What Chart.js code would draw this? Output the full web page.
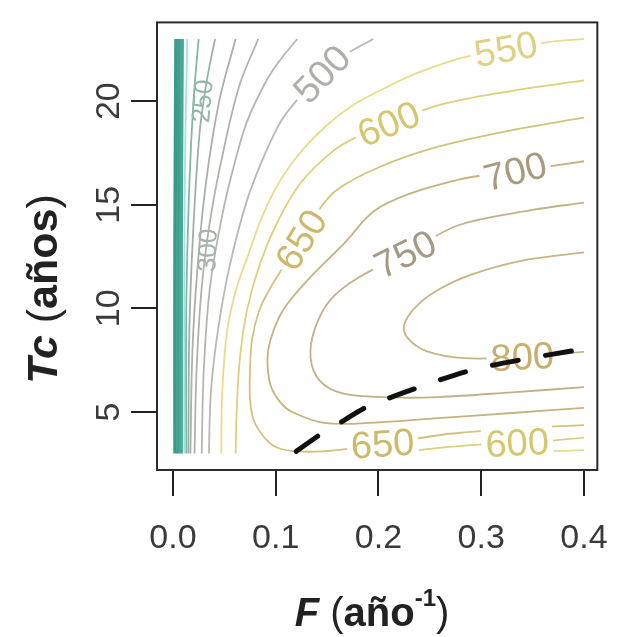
<!DOCTYPE html>
<html>
<head>
<meta charset="utf-8">
<script src="https://cdn.jsdelivr.net/npm/chart.js@4.4.1/dist/chart.umd.min.js"></script>
<style>
  html, body { margin: 0; padding: 0; background: #fff; }
  canvas { display: block; }
</style>
</head>
<body>
<canvas id="contourChart" width="630" height="637"></canvas>
<script>
// axis ticks
const xTicks = [0.0, 0.1, 0.2, 0.3, 0.4];
const yTicks = [5, 10, 15, 20];

// contour lines, points are [F, Tc]
const c50 = [[0.002, 3], [0.002, 13], [0.003, 23]];
const c100 = [[0.005, 3], [0.005, 13], [0.006, 23]];
const c150 = [[0.008, 3], [0.008, 13], [0.009, 23]];
const c200 = [[0.011, 3], [0.011, 12], [0.012, 18], [0.014, 23]];
const c250 = [[0.013, 3], [0.013, 10], [0.016, 16], [0.02, 20], [0.025, 23]];
const c300 = [[0.015, 3], [0.016, 9], [0.02, 14], [0.026, 18.5], [0.033, 21], [0.041, 23]];
const c350 = [[0.017, 3], [0.019, 8], [0.024, 12], [0.032, 16], [0.045, 20], [0.061, 23]];
const c400 = [[0.021, 3], [0.023, 7], [0.028, 11], [0.037, 14.5], [0.05, 17.8], [0.065, 20.8], [0.083, 23]];
const c450 = [[0.028, 3], [0.03, 7], [0.036, 11], [0.048, 14.5], [0.06, 17], [0.072, 19], [0.09, 20.9], [0.103, 21.9], [0.121, 23]];
const c500 = [[0.035, 3], [0.037, 6], [0.044, 9], [0.055, 12], [0.072, 15.2], [0.09, 17.5], [0.106, 19.1],
  [0.125, 20.3], [0.145, 21.3], [0.17, 22.3], [0.195, 23]];
const c550 = [[0.047, 3], [0.048, 6], [0.053, 9], [0.062, 11], [0.072, 12.4], [0.085, 14.2], [0.1, 15.8],
  [0.122, 17.4], [0.149, 18.8], [0.175, 19.8], [0.205, 20.6], [0.235, 21.3], [0.268, 21.9], [0.3, 22.3],
  [0.33, 22.55], [0.365, 22.85], [0.4, 23.0]];
const c550b = [[0.33, 3.0], [0.36, 3.08], [0.4, 3.16]];
const c600 = [[0.061, 3], [0.062, 5], [0.065, 7.5], [0.072, 9.9], [0.085, 12.2], [0.103, 14.3], [0.125, 16.1],
  [0.156, 17.6], [0.18, 18.3], [0.21, 18.9], [0.258, 19.8], [0.33, 20.5], [0.4, 21.0]];
const c600b = [[0.215, 3.0], [0.25, 3.22], [0.29, 3.4], [0.335, 3.5], [0.37, 3.62], [0.4, 3.76]];
const c650 = [[0.4, 19.2], [0.33, 18.6], [0.258, 17.8], [0.2, 16.8], [0.159, 15.7], [0.14, 14.6], [0.125, 13.3],
  [0.11, 12.2], [0.095, 11], [0.084, 9.9], [0.077, 8.5], [0.075, 7], [0.075, 5.6], [0.078, 4.7], [0.084, 4.1],
  [0.093, 3.55], [0.103, 3.25], [0.12, 3.1], [0.146, 3.1], [0.175, 3.25], [0.204, 3.45], [0.235, 3.7],
  [0.27, 3.95], [0.33, 4.2], [0.4, 4.37]];
const c700 = [[0.4, 17.1], [0.333, 16.6], [0.277, 16.2], [0.202, 14.9], [0.165, 13.05], [0.13, 11.3],
  [0.107, 9.9], [0.095, 8.5], [0.092, 7.5], [0.095, 6.3], [0.104, 5.5], [0.116, 5.0], [0.149, 4.46],
  [0.2, 4.5], [0.258, 4.7], [0.33, 4.95], [0.4, 5.2]];
const c750 = [[0.4, 15.1], [0.35, 14.75], [0.277, 14.0], [0.226, 12.6], [0.181, 11.5], [0.153, 10.4],
  [0.138, 9.0], [0.134, 7.6], [0.143, 6.5], [0.165, 5.9], [0.214, 5.7], [0.258, 5.72], [0.33, 5.95], [0.4, 6.2]];
const c800 = [[0.4, 12.7], [0.34, 12.3], [0.289, 11.6], [0.255, 10.8], [0.235, 10.0], [0.225, 9.2],
  [0.228, 8.6], [0.246, 7.95], [0.283, 7.6], [0.34, 7.65], [0.4, 7.9]];

// dashed black path
const dashPath = [[0.12, 3.1], [0.143, 3.9], [0.165, 4.55], [0.187, 5.2], [0.237, 6.15], [0.289, 7.0], [0.342, 7.55], [0.395, 8.0]];

const contours = [
  [50, c50], [100, c100], [150, c150], [200, c200], [250, c250], [300, c300], [350, c350],
  [400, c400], [450, c450], [500, c500], [550, c550], [550, c550b], [600, c600], [600, c600b],
  [650, c650], [700, c700], [750, c750], [800, c800]
];

const lineColor = {
  50: '#3a9a8a', 100: '#3d9f8f', 150: '#4aa696', 200: '#a2e4dd', 250: '#86b6a8', 300: '#9db0a8',
  350: '#aab0aa', 400: '#b2b2ac', 450: '#b6b6b0', 500: '#b9b9b3', 550: '#e6dc8c', 600: '#ddd07a',
  650: '#d3c27c', 700: '#c6b27e', 750: '#c2b088', 800: '#c9b486'
};
const textColor = {
  250: '#93b8ac', 300: '#a3b3ab', 500: '#b0b0aa', 550: '#ddd184', 600: '#d6c76e',
  650: '#cdb96a', 700: '#a89a7e', 750: '#a39a86', 800: '#c7b06e'
};

// label placement on the lines
const contourLabels = [
  { text: '500', level: 500, f: 0.145, tc: 21.3, angle: -46 },
  { text: '550', level: 550, f: 0.324, tc: 22.5, angle: -10 },
  { text: '600', level: 600, f: 0.21, tc: 18.9, angle: -22 },
  { text: '650', level: 650, f: 0.125, tc: 13.3, angle: -58 },
  { text: '700', level: 700, f: 0.333, tc: 16.6, angle: -14 },
  { text: '750', level: 750, f: 0.226, tc: 12.6, angle: -26 },
  { text: '800', level: 800, f: 0.34, tc: 7.65, angle: -3 },
  { text: '650', level: 650, f: 0.204, tc: 3.45, angle: -4 },
  { text: '600', level: 600, f: 0.335, tc: 3.5, angle: -3 },
  { text: '250', level: 250, f: 0.028, tc: 20.0, angle: -85, small: true },
  { text: '300', level: 300, f: 0.033, tc: 12.8, angle: -88, small: true }
];

const FONT = "'Liberation Sans', Arial, sans-serif";

const datasets = [{
  data: dashPath.map(p => ({ x: p[0], y: p[1] })),
  showLine: true, borderColor: '#111', borderWidth: 5, borderDash: [26, 28],
  pointRadius: 0, tension: 0.3, borderCapStyle: 'round'
}];
contours.forEach(([lev, pts]) => {
  datasets.push({
    data: pts.map(p => ({ x: p[0], y: p[1] })),
    showLine: true,
    borderColor: lineColor[lev],
    borderWidth: lev <= 150 ? 3.5 : 1.8,
    pointRadius: 0,
    tension: 0.35
  });
});

const labelPlugin = {
  id: 'contourLabels',
  afterDatasetDraw(chart, args) {
    if (args.index !== 1) return;
    const ctx = chart.ctx;
    const xs = chart.scales.x, ys = chart.scales.y;
    ctx.save();
    contourLabels.forEach(l => {
      const size = l.small ? 26 : 38;
      ctx.font = size + 'px ' + FONT;
      const w = ctx.measureText(l.text).width;
      ctx.save();
      ctx.translate(xs.getPixelForValue(l.f), ys.getPixelForValue(l.tc));
      ctx.rotate(l.angle * Math.PI / 180);
      if (!l.small) {
        ctx.fillStyle = '#ffffff';
        ctx.fillRect(-w / 2 - 4, -size * 0.42, w + 8, size * 0.84);
      }
      ctx.fillStyle = textColor[l.level];
      ctx.textAlign = 'center';
      ctx.textBaseline = 'middle';
      ctx.fillText(l.text, 0, 2);
      ctx.restore();
    });
    ctx.restore();
  }
};

function richText(ctx, parts, x, y) {
  let total = 0;
  parts.forEach(p => { ctx.font = p.font; p.w = ctx.measureText(p.t).width; total += p.w; });
  let cx = x - total / 2;
  parts.forEach(p => {
    ctx.font = p.font;
    ctx.fillText(p.t, cx, y + (p.dy || 0));
    cx += p.w;
  });
}

const framePlugin = {
  id: 'frame',
  afterDatasetsDraw(chart) {
    const { ctx, chartArea: a } = chart;
    ctx.save();
    ctx.strokeStyle = '#2b2b2b';
    ctx.lineWidth = 2;
    ctx.strokeRect(a.left, a.top, a.right - a.left, a.bottom - a.top);
    ctx.restore();
  },
  afterDraw(chart) {
    const ctx = chart.ctx;
    ctx.save();
    ctx.fillStyle = '#222';
    ctx.textBaseline = 'alphabetic';
    richText(ctx, [
      { t: 'F', font: 'italic bold 40px ' + FONT },
      { t: ' (', font: '40px ' + FONT },
      { t: 'año', font: 'bold 40px ' + FONT },
      { t: '-1', font: 'bold 24px ' + FONT, dy: -20 },
      { t: ')', font: '40px ' + FONT }
    ], 372, 626);
    ctx.translate(42, 289);
    ctx.rotate(-Math.PI / 2);
    richText(ctx, [
      { t: 'Tc', font: 'italic bold 43px ' + FONT },
      { t: ' (', font: '43px ' + FONT },
      { t: 'años', font: 'bold 43px ' + FONT },
      { t: ')', font: '43px ' + FONT }
    ], 0, 15);
    ctx.restore();
  }
};

new Chart(document.getElementById('contourChart'), {
  type: 'scatter',
  data: { datasets: datasets },
  options: {
    responsive: false,
    animation: false,
    layout: { padding: { top: 9, right: 13, left: 0, bottom: 0 } },
    plugins: { legend: { display: false }, tooltip: { enabled: false } },
    scales: {
      x: {
        type: 'linear', min: -0.0155, max: 0.413,
        afterBuildTicks: s => { s.ticks = xTicks.map(v => ({ value: v })); },
        afterFit: s => { s.height = 167; },
        border: { display: false },
        grid: { drawOnChartArea: false, tickLength: 26, lineWidth: 2, color: '#222' },
        ticks: {
          callback: v => Number(v).toFixed(1), autoSkip: false, maxRotation: 0,
          font: { family: FONT, size: 34 }, color: '#3a3a3a', padding: 22
        }
      },
      y: {
        type: 'linear', min: 2.2, max: 23.8,
        afterBuildTicks: s => { s.ticks = yTicks.map(v => ({ value: v })); },
        afterFit: s => { s.width = 157; },
        border: { display: false },
        grid: { drawOnChartArea: false, tickLength: 26, lineWidth: 2, color: '#222' },
        ticks: {
          autoSkip: false, minRotation: 90, maxRotation: 90, crossAlign: 'center',
          font: { family: FONT, size: 34 }, color: '#3a3a3a', padding: 2
        }
      }
    }
  },
  plugins: [labelPlugin, framePlugin]
});
</script>
</body>
</html>
